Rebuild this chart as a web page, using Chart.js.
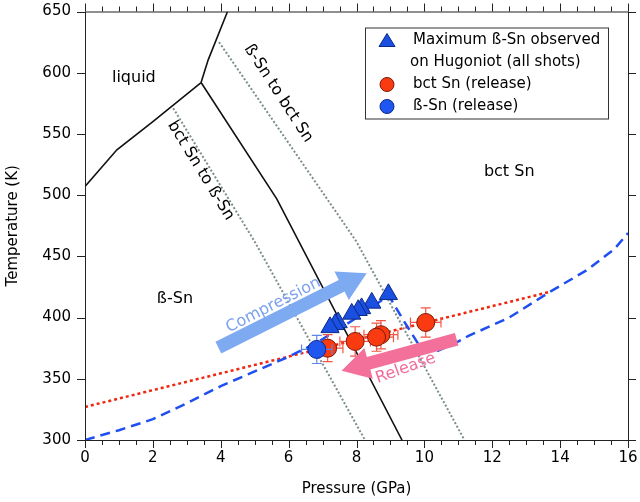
<!DOCTYPE html>
<html>
<head>
<meta charset="utf-8">
<script src="https://cdn.jsdelivr.net/npm/chart.js@4.4.1/dist/chart.umd.min.js"></script>
<style>
  html, body { margin: 0; padding: 0; background: #fff; }
</style>
</head>
<body>
<canvas id="c" width="640" height="502"></canvas>
<script>
// --- measured points ---
const triP = [8.94, 8.45, 8.15, 8.05, 7.86, 7.46, 7.37, 7.22];
const triT = [419, 412, 407.5, 406, 403, 396, 394.5, 392];

const bctP = [10.04, 8.72, 8.59, 7.96, 7.15];
const bctT = [396, 386, 384, 380.5, 375];
const bctPErr = [0.45, 0.5, 0.5, 0.45, 0.45];
const bctTErr = [12, 11.5, 11.5, 12, 11];

const betaP = [6.83];
const betaT = [374];
const betaPErr = [0.45];
const betaTErr = [11.5];

// --- phase boundaries and paths ---
const meltP = [0, 0.94, 2, 3.42];
const meltT = [507, 537, 560, 592];
const liqBctP = [3.42, 3.63, 4.2];
const liqBctT = [592, 610.5, 650];
const betaBctP = [3.42, 5.65, 9.34];
const betaBctT = [592, 497, 300];
const bctToBetaP = [2.6, 5.0, 8.25];
const bctToBetaT = [571, 462, 300];
const betaToBctP = [3.95, 8.0, 11.18];
const betaToBctT = [625, 462, 300];
const releaseP = [0, 13.7];
const releaseT = [327, 421];
const hugP = [0, 1, 2, 3, 4, 5, 6, 6.8, 7.9, 8.95, 9.4, 9.9, 10.4, 10.9, 11.3, 12.5, 13.7, 14.8, 15.6, 16];
const hugT = [300, 308, 317, 330, 344, 356, 368, 379, 398, 418, 397, 375, 373, 379, 385, 400, 421, 439, 456, 469];

// axis ticks
const xMajor = [0, 2, 4, 6, 8, 10, 12, 14, 16];
const yMajor = [300, 350, 400, 450, 500, 550, 600, 650];

const FONT = '"DejaVu Sans", "Noto Sans", sans-serif';

function pts(P, T) { return P.map((p, i) => ({ x: p, y: T[i] })); }

function lineSet(P, T, color, width, dash, order) {
  return {
    data: pts(P, T), showLine: true, pointRadius: 0,
    borderColor: color, borderWidth: width, borderDash: dash || [],
    fill: false, tension: 0, order: order
  };
}

// annotations in data coordinates
const labels = [
  { text: 'liquid', x: 1.44, y: 596, angle: 0, color: '#000' },
  { text: 'bct Sn', x: 12.5, y: 519, angle: 0, color: '#000' },
  { text: 'ß-Sn', x: 2.65, y: 415, angle: 0, color: '#000' },
  { text: 'ß-Sn to bct Sn', x: 5.7, y: 583, angle: 57, color: '#000' },
  { text: 'bct Sn to ß-Sn', x: 3.41, y: 520, angle: 58.5, color: '#000' },
  { text: 'Compression', x: 5.55, y: 410, angle: -27, color: '#7aa0ee' },
  { text: 'Release', x: 9.45, y: 358.5, angle: -20, color: '#f06c9b' }
];
const arrows = [
  { from: [3.93, 375.5], to: [8.3, 436.3], color: '#7eaaf2' },
  { from: [10.95, 382.3], to: [7.56, 356.6], color: '#f27099' }
];

const errorBars = {
  id: 'errorBars',
  beforeDatasetDraw(chart, args) {
    const ds = chart.data.datasets[args.index];
    if (!ds.xErr) return;
    const xs = chart.scales.x, ys = chart.scales.y, ctx = chart.ctx;
    ctx.save();
    ctx.strokeStyle = ds.errColor;
    ctx.lineWidth = 1.2;
    ds.data.forEach((d, i) => {
      const cx = xs.getPixelForValue(d.x), cy = ys.getPixelForValue(d.y);
      const x0 = xs.getPixelForValue(d.x - ds.xErr[i]), x1 = xs.getPixelForValue(d.x + ds.xErr[i]);
      const y0 = ys.getPixelForValue(d.y - ds.yErr[i]), y1 = ys.getPixelForValue(d.y + ds.yErr[i]);
      const c = 5;
      ctx.beginPath();
      ctx.moveTo(x0, cy); ctx.lineTo(x1, cy);
      ctx.moveTo(x0, cy - c); ctx.lineTo(x0, cy + c);
      ctx.moveTo(x1, cy - c); ctx.lineTo(x1, cy + c);
      ctx.moveTo(cx, y0); ctx.lineTo(cx, y1);
      ctx.moveTo(cx - c, y0); ctx.lineTo(cx + c, y0);
      ctx.moveTo(cx - c, y1); ctx.lineTo(cx + c, y1);
      ctx.stroke();
    });
    ctx.restore();
  }
};

function drawArrow(ctx, x0, y0, x1, y1, color) {
  const ang = Math.atan2(y1 - y0, x1 - x0);
  const len = Math.hypot(x1 - x0, y1 - y0);
  const sw = 6.5, hl = 28, hw = 16;
  ctx.save();
  ctx.translate(x0, y0);
  ctx.rotate(ang);
  ctx.fillStyle = color;
  ctx.beginPath();
  ctx.moveTo(0, -sw);
  ctx.lineTo(len - hl, -sw);
  ctx.lineTo(len - hl, -hw);
  ctx.lineTo(len, 0);
  ctx.lineTo(len - hl, hw);
  ctx.lineTo(len - hl, sw);
  ctx.lineTo(0, sw);
  ctx.closePath();
  ctx.fill();
  ctx.restore();
}

const decorations = {
  id: 'decorations',
  afterDatasetsDraw(chart) {
    const ctx = chart.ctx, xs = chart.scales.x, ys = chart.scales.y, a = chart.chartArea;
    arrows.forEach(ar => drawArrow(ctx,
      xs.getPixelForValue(ar.from[0]), ys.getPixelForValue(ar.from[1]),
      xs.getPixelForValue(ar.to[0]), ys.getPixelForValue(ar.to[1]), ar.color));

    labels.forEach(l => {
      ctx.save();
      ctx.translate(xs.getPixelForValue(l.x), ys.getPixelForValue(l.y));
      ctx.rotate(l.angle * Math.PI / 180);
      ctx.font = '16px ' + FONT;
      ctx.fillStyle = l.color;
      ctx.textAlign = 'center';
      ctx.textBaseline = 'middle';
      ctx.fillText(l.text, 0, 0);
      ctx.restore();
    });

    // frame with outward ticks on all sides
    ctx.save();
    ctx.strokeStyle = '#222';
    ctx.lineWidth = 1;
    ctx.strokeRect(a.left + 0.5, a.top + 0.5, a.right - a.left, a.bottom - a.top);
    ctx.beginPath();
    for (let v = 0; v <= 16.001; v += 0.5) {
      const px = Math.round(xs.getPixelForValue(v)) + 0.5;
      const L = xMajor.includes(v) ? 8 : 5;
      ctx.moveTo(px, a.bottom); ctx.lineTo(px, a.bottom + L);
      ctx.moveTo(px, a.top); ctx.lineTo(px, a.top - L);
    }
    yMajor.forEach(v => {
      const py = Math.round(ys.getPixelForValue(v)) + 0.5;
      ctx.moveTo(a.left, py); ctx.lineTo(a.left - 8, py);
      ctx.moveTo(a.right, py); ctx.lineTo(a.right + 8, py);
    });
    ctx.stroke();
    ctx.restore();

    // legend box
    const bx = a.right - 263, by = a.top + 16, bw = 243, bh = 91;
    ctx.save();
    ctx.fillStyle = '#fff';
    ctx.fillRect(bx, by, bw, bh);
    ctx.strokeStyle = '#333';
    ctx.lineWidth = 1;
    ctx.strokeRect(bx + 0.5, by + 0.5, bw, bh);
    ctx.font = '15px ' + FONT;
    ctx.textBaseline = 'middle';
    ctx.textAlign = 'left';
    let rowY = by + 13;
    chart.data.datasets.forEach(ds => {
      if (!ds.legend) return;
      const mx = bx + 22;
      ctx.fillStyle = ds.backgroundColor;
      ctx.strokeStyle = ds.borderColor;
      ctx.lineWidth = 1;
      ctx.beginPath();
      if (ds.pointStyle === 'triangle') {
        ctx.moveTo(mx, rowY - 7); ctx.lineTo(mx + 8, rowY + 6); ctx.lineTo(mx - 8, rowY + 6); ctx.closePath();
      } else {
        ctx.arc(mx, rowY, 7, 0, Math.PI * 2);
      }
      ctx.fill(); ctx.stroke();
      ctx.fillStyle = '#000';
      ds.legend.forEach((t, k) => {
        ctx.fillText(t, bx + (k === 0 ? 48 : 45), rowY);
        rowY += 22;
      });
    });
    ctx.restore();
  }
};

const ctx = document.getElementById('c').getContext('2d');
new Chart(ctx, {
  type: 'scatter',
  data: {
    datasets: [
      { data: pts(triP, triT), pointRadius: 10.5, pointStyle: 'triangle',
        backgroundColor: '#1b4fe2', borderColor: '#0b2a85', borderWidth: 1,
        legend: ['Maximum ß-Sn observed', 'on Hugoniot (all shots)'], order: 2 },
      { data: pts(bctP, bctT), pointRadius: 9, pointStyle: 'circle',
        backgroundColor: '#fa3a10', borderColor: '#7c1a08', borderWidth: 1,
        xErr: bctPErr, yErr: bctTErr, errColor: '#f35545',
        legend: ['bct Sn (release)'], order: 1 },
      { data: pts(betaP, betaT), pointRadius: 9, pointStyle: 'circle',
        backgroundColor: '#1f56f0', borderColor: '#0d2a88', borderWidth: 1,
        xErr: betaPErr, yErr: betaTErr, errColor: '#5d86ea',
        legend: ['ß-Sn (release)'], order: 0 },
      lineSet(meltP, meltT, '#111', 1.6, null, 5),
      lineSet(liqBctP, liqBctT, '#111', 1.6, null, 5),
      lineSet(betaBctP, betaBctT, '#111', 1.6, null, 5),
      lineSet(bctToBetaP, bctToBetaT, '#7d8c8c', 2, [2, 2], 6),
      lineSet(betaToBctP, betaToBctT, '#7d8c8c', 2, [2, 2], 6),
      lineSet(releaseP, releaseT, '#f0260e', 2.5, [3, 3], 4),
      lineSet(hugP, hugT, '#1f4ff0', 2.5, [10, 6], 3)
    ]
  },
  options: {
    responsive: false,
    animation: false,
    devicePixelRatio: 1,
    layout: { padding: { top: 8, right: 12, left: 0, bottom: 0 } },
    plugins: { legend: { display: false }, tooltip: { enabled: false } },
    scales: {
      x: {
        type: 'linear', min: 0, max: 16,
        ticks: { stepSize: 2, color: '#000', font: { family: FONT, size: 15 }, padding: 9, maxRotation: 0 },
        grid: { display: false, drawTicks: false },
        border: { display: false },
        title: { display: true, text: 'Pressure (GPa)', color: '#000', font: { family: FONT, size: 15 } },
        afterFit(s) { s.height = 62; s.paddingLeft = 0; s.paddingRight = 0; }
      },
      y: {
        type: 'linear', min: 300, max: 650,
        ticks: { stepSize: 50, color: '#000', font: { family: FONT, size: 15 }, padding: 14 },
        grid: { display: false, drawTicks: false },
        border: { display: false },
        title: { display: true, text: 'Temperature (K)', color: '#000', font: { family: FONT, size: 15 } },
        afterFit(s) { s.width = 85; s.paddingTop = 0; s.paddingBottom = 0; }
      }
    }
  },
  plugins: [errorBars, decorations]
});
</script>
</body>
</html>
